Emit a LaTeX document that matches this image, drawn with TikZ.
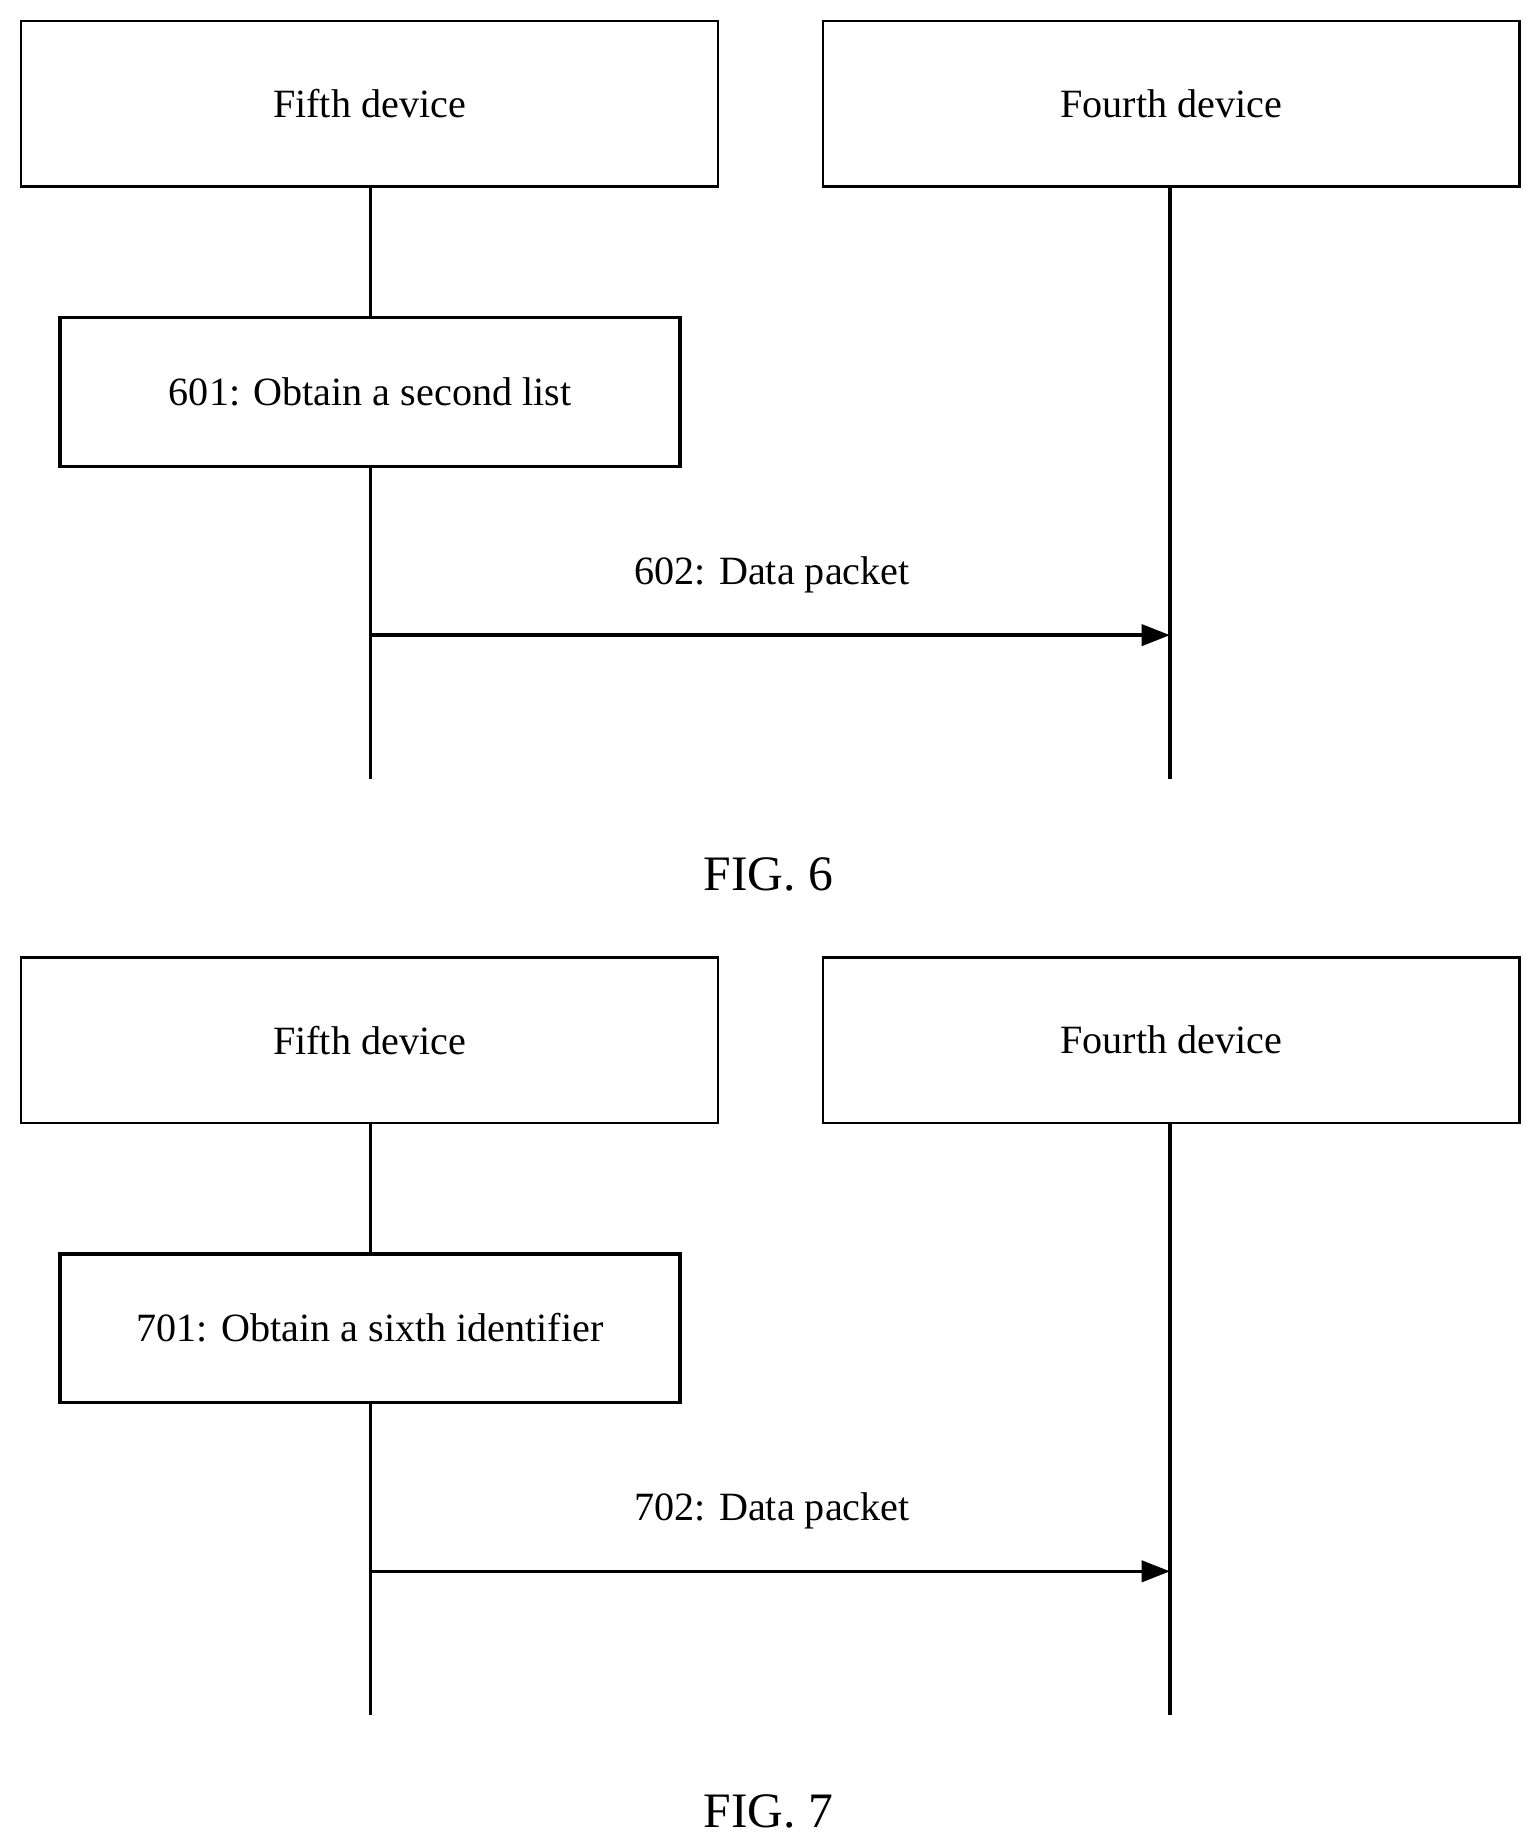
\documentclass[tikz,border=0pt]{standalone}
\usepackage{fontspec}
\setmainfont{Liberation Serif}
\usetikzlibrary{arrows.meta}
\begin{document}
\begin{tikzpicture}[x=1pt,y=-1pt,
  dev/.style={draw,line width=2pt,minimum width=590pt,minimum height=140pt,font=\fontsize{34}{40}\selectfont,inner sep=0},
  proc/.style={draw,line width=3pt,minimum width=525pt,minimum height=126pt,font=\fontsize{34}{40}\selectfont,inner sep=0},
  life/.style={line width=3pt},
  msg/.style={line width=3pt,-{Triangle[length=24pt,width=18pt]}},
  lbl/.style={font=\fontsize{34}{40}\selectfont},
  fig/.style={font=\fontsize{42}{48}\selectfont}]
\useasboundingbox (0,0) rectangle (1300,1562);
\foreach \o/\n/\s/\t/\m in {0/6/601/Obtain a second list/602, 793/7/701/Obtain a sixth identifier/702}{
  \node[dev] (a\n) at (313,88+\o) {Fifth device};
  \node[dev] (b\n) at (992,88+\o) {Fourth device};
  \node[proc] (s\n) at (313.5,332+\o) {\s: \t};
  \coordinate (ae\n) at (314,660+\o);
  \coordinate (be\n) at (991,660+\o);
  \coordinate (m\n) at (314,538+\o);
  \coordinate (mt\n) at (991,538+\o);
  \draw[life] (a\n.south -| ae\n) -- (s\n.north -| ae\n);
  \draw[life] (s\n.south -| ae\n) -- (ae\n);
  \draw[life] (b\n.south -| be\n) -- (be\n);
  \draw[msg] (m\n) -- (mt\n);
  \node[lbl] (l\n) at (654,487+\o) {\m: Data packet};
  \node[fig] (f\n) at (651,741+\o) {FIG. \n};
}
\end{tikzpicture}
\end{document}
